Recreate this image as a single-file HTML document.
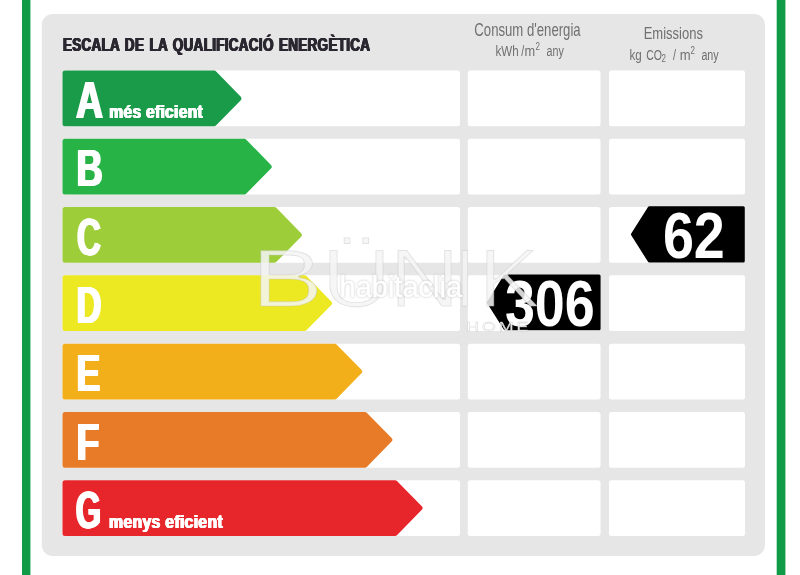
<!DOCTYPE html>
<html lang="ca"><head><meta charset="utf-8"><title>Escala de la qualificació energètica</title>
<style>
html,body{margin:0;padding:0;background:#fff;}
body{width:800px;height:575px;overflow:hidden;}
svg{display:block;}
text{font-family:"Liberation Sans",sans-serif;}
.b{font-weight:bold;}
.w{fill:#fff;}
.h{fill:#707070;}
</style></head><body>
<svg width="800" height="575" viewBox="0 0 800 575">
<rect x="0" y="0" width="800" height="575" fill="#fff"/>
<rect x="22" y="0" width="8.4" height="575" fill="#109b46"/>
<rect x="776.7" y="0" width="8.7" height="575" fill="#109b46"/>
<rect x="41.8" y="14" width="723.2" height="542" rx="11" ry="11" fill="#e6e6e6"/>

<rect x="62.5" y="70.50" width="397.5" height="55.75" rx="2.5" fill="#fff"/>
<rect x="467.8" y="70.50" width="132.7" height="55.75" rx="2.5" fill="#fff"/>
<rect x="609" y="70.50" width="136" height="55.75" rx="2.5" fill="#fff"/>
<rect x="62.5" y="138.79" width="397.5" height="55.75" rx="2.5" fill="#fff"/>
<rect x="467.8" y="138.79" width="132.7" height="55.75" rx="2.5" fill="#fff"/>
<rect x="609" y="138.79" width="136" height="55.75" rx="2.5" fill="#fff"/>
<rect x="62.5" y="207.08" width="397.5" height="55.75" rx="2.5" fill="#fff"/>
<rect x="467.8" y="207.08" width="132.7" height="55.75" rx="2.5" fill="#fff"/>
<rect x="609" y="207.08" width="136" height="55.75" rx="2.5" fill="#fff"/>
<rect x="62.5" y="275.37" width="397.5" height="55.75" rx="2.5" fill="#fff"/>
<rect x="467.8" y="275.37" width="132.7" height="55.75" rx="2.5" fill="#fff"/>
<rect x="609" y="275.37" width="136" height="55.75" rx="2.5" fill="#fff"/>
<rect x="62.5" y="343.66" width="397.5" height="55.75" rx="2.5" fill="#fff"/>
<rect x="467.8" y="343.66" width="132.7" height="55.75" rx="2.5" fill="#fff"/>
<rect x="609" y="343.66" width="136" height="55.75" rx="2.5" fill="#fff"/>
<rect x="62.5" y="411.95" width="397.5" height="55.75" rx="2.5" fill="#fff"/>
<rect x="467.8" y="411.95" width="132.7" height="55.75" rx="2.5" fill="#fff"/>
<rect x="609" y="411.95" width="136" height="55.75" rx="2.5" fill="#fff"/>
<rect x="62.5" y="480.24" width="397.5" height="55.75" rx="2.5" fill="#fff"/>
<rect x="467.8" y="480.24" width="132.7" height="55.75" rx="2.5" fill="#fff"/>
<rect x="609" y="480.24" width="136" height="55.75" rx="2.5" fill="#fff"/>
<path d="M65.00 73.00 H214.13 L239.00 98.38 L214.13 123.75 H65.00 Z" fill="#1a9b49" stroke="#1a9b49" stroke-width="5.0" stroke-linejoin="round"/>
<path d="M65.00 141.29 H244.30 L269.17 166.67 L244.30 192.04 H65.00 Z" fill="#28b346" stroke="#28b346" stroke-width="5.0" stroke-linejoin="round"/>
<path d="M65.00 209.58 H274.47 L299.34 234.96 L274.47 260.33 H65.00 Z" fill="#9dcd38" stroke="#9dcd38" stroke-width="5.0" stroke-linejoin="round"/>
<path d="M65.00 277.87 H304.64 L329.51 303.25 L304.64 328.62 H65.00 Z" fill="#ece822" stroke="#ece822" stroke-width="5.0" stroke-linejoin="round"/>
<path d="M65.00 346.16 H334.81 L359.68 371.54 L334.81 396.91 H65.00 Z" fill="#f3af19" stroke="#f3af19" stroke-width="5.0" stroke-linejoin="round"/>
<path d="M65.00 414.45 H364.98 L389.85 439.83 L364.98 465.20 H65.00 Z" fill="#e77b28" stroke="#e77b28" stroke-width="5.0" stroke-linejoin="round"/>
<path d="M65.00 482.74 H395.15 L420.02 508.12 L395.15 533.49 H65.00 Z" fill="#e6262b" stroke="#e6262b" stroke-width="5.0" stroke-linejoin="round"/>
<g style="filter:drop-shadow(1px 0 0 #fff) drop-shadow(-1px 0 0 #fff)">
<text class="b w" font-size="52" transform="translate(75.9 118.00) scale(0.72 1)">A</text>
<text class="b w" font-size="52" transform="translate(76.4 186.29) scale(0.7 1)">B</text>
<text class="b w" font-size="52" transform="translate(77.0 254.58) scale(0.635 1)">C</text>
<text class="b w" font-size="52" transform="translate(76.4 322.87) scale(0.665 1)">D</text>
<text class="b w" font-size="52" transform="translate(76.4 391.16) scale(0.685 1)">E</text>
<text class="b w" font-size="52" transform="translate(76.4 459.95) scale(0.72 1)">F</text>
<text class="b w" font-size="52" transform="translate(75.8 528.24) scale(0.625 1)">G</text>
</g>
<g style="filter:drop-shadow(0.25px 0 0 #fff) drop-shadow(-0.25px 0 0 #fff)">
<text class="b w" font-size="19" letter-spacing="0.35" transform="translate(109.8 118.00) scale(0.822 1)">més eficient</text>
<text class="b w" font-size="19" letter-spacing="0.35" transform="translate(109.6 527.94) scale(0.832 1)">menys eficient</text>
</g>
<g style="filter:drop-shadow(0.2px 0 0 #2b2730) drop-shadow(-0.2px 0 0 #2b2730)">
<text class="b" fill="#2b2730" font-size="17.6" letter-spacing="0.4" word-spacing="1.6" transform="translate(63.4 50.8) scale(0.766 1)">ESCALA DE LA QUALIFICACIÓ ENERGÈTICA</text>
</g>
<text class="h" font-size="17.5" text-anchor="middle" transform="translate(527.5 36.4) scale(0.752 1)">Consum d'energia</text>
<text class="h" font-size="14.5" transform="translate(495.4 55.8) scale(0.8 1)">kWh</text>
<text class="h" font-size="14.5" transform="translate(521.2 55.8) scale(0.75 1)">/</text>
<text class="h" font-size="14.5" transform="translate(524.6 55.8) scale(0.88 1)">m</text>
<text class="h" font-size="10" transform="translate(535.6 50.3) scale(0.8 1)">2</text>
<text class="h" font-size="14.5" transform="translate(546.6 55.8) scale(0.74 1)">any</text>
<text class="h" font-size="17" text-anchor="middle" transform="translate(673.3 38.7) scale(0.765 1)">Emissions</text>
<text class="h" font-size="14.5" transform="translate(629.4 59.7) scale(0.8 1)">kg</text>
<text class="h" font-size="14.5" transform="translate(646.2 59.7) scale(0.73 1)">CO</text>
<text class="h" font-size="10" transform="translate(661.5 61.6) scale(0.8 1)">2</text>
<text class="h" font-size="14.5" transform="translate(672.9 59.7) scale(0.75 1)">/</text>
<text class="h" font-size="14.5" transform="translate(679.8 59.7) scale(0.9 1)">m</text>
<text class="h" font-size="10" transform="translate(690.6 54) scale(0.8 1)">2</text>
<text class="h" font-size="14.5" transform="translate(701.4 59.7) scale(0.74 1)">any</text>
<path d="M743.30 207.80 H649.27 L632.51 234.40 L649.27 261.00 H743.30 Z" fill="#000" stroke="#000" stroke-width="3.0" stroke-linejoin="round"/>
<text class="b w" font-size="64.6" transform="translate(662.9 258.2) scale(0.862 1)">62</text>
<path d="M599.10 276.10 H505.02 L488.42 302.45 L505.02 328.80 H599.10 Z" fill="#000" stroke="#000" stroke-width="3.0" stroke-linejoin="round"/>
<text class="b w" font-size="65.5" transform="translate(504.9 326.4) scale(0.823 1)">306</text>
<defs><filter id="thin" x="-5%" y="-5%" width="110%" height="110%"><feMorphology operator="erode" radius="1.2 0.6"/></filter></defs>
<g filter="url(#thin)" fill="#f4f4f4" fill-opacity="0.86" stroke="#c4c4c4" stroke-opacity="0.45" stroke-width="0.8" font-size="83.7">
<text transform="translate(251.1 306.6) scale(1.3 1)">B</text>
<text transform="translate(321.5 306.6) scale(1.157 1)">Ü</text>
<text transform="translate(388.9 306.6) scale(1.175 1)">N</text>
<text transform="translate(454.3 306.6) scale(0.9 1)">I</text>
<text transform="translate(478.3 306.6) scale(1.125 1)">K</text>
</g>
<text font-size="29" fill="#ffffff" stroke="#ffffff" stroke-width="0.5" style="filter:drop-shadow(0 0 1px rgba(100,100,100,.38))" transform="translate(339.5 297)">habitaclia</text>
<text font-size="12.3" fill="#ffffff" fill-opacity="0.9" stroke="#bdbdbd" stroke-opacity="0.7" stroke-width="0.35" transform="translate(466.3 331) scale(1.45 1)" letter-spacing="2">HOME</text>
</svg></body></html>
